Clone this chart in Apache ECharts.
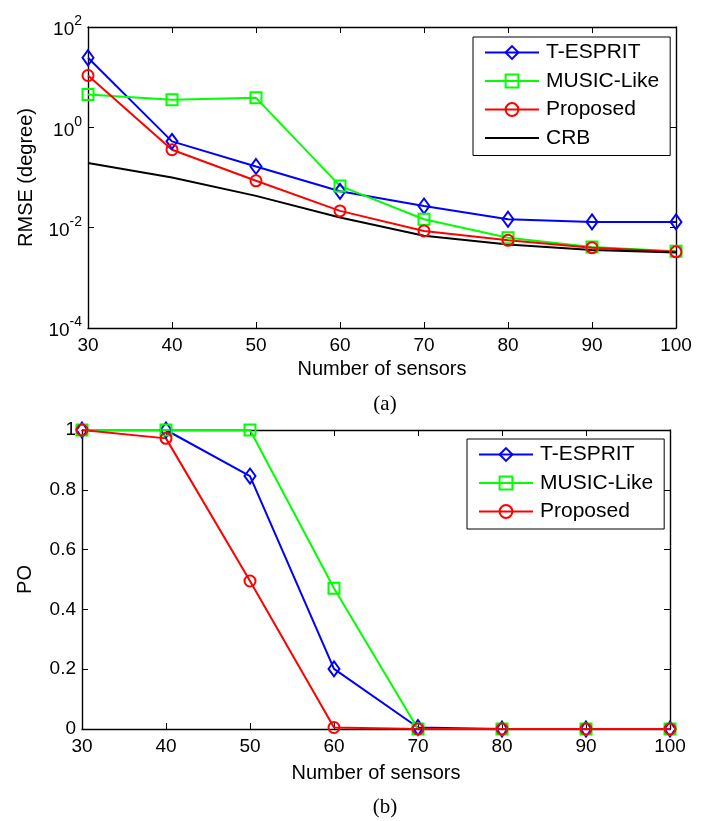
<!DOCTYPE html>
<html>
<head>
<meta charset="utf-8">
<script src="https://cdn.jsdelivr.net/npm/echarts@6/dist/echarts.min.js"></script>
<style>
  html, body { margin: 0; padding: 0; background: #fff; }
  #chart { width: 721px; height: 821px; }
</style>
</head>
<body>
<div id="chart"></div>
<script>
// ---- data ----
const sensors = [30, 40, 50, 60, 70, 80, 90, 100];
const xTicks = [30, 40, 50, 60, 70, 80, 90, 100];
const seriesNames = ['T-ESPRIT', 'MUSIC-Like', 'Proposed', 'CRB'];
const rmseTEsprit  = [24.4, 0.525, 0.166, 0.053, 0.027, 0.0147, 0.013, 0.013];
const rmseMusic    = [4.5, 3.53, 3.87, 0.068, 0.0147, 0.0063, 0.0041, 0.0034];
const rmseProposed = [10.8, 0.358, 0.086, 0.0216, 0.0086, 0.0056, 0.004, 0.0033];
const rmseCRB      = [0.194, 0.1, 0.043, 0.016, 0.0069, 0.0046, 0.0036, 0.0032];
const poTEsprit  = [1, 1, 0.846, 0.201, 0.005, 0, 0, 0];
const poMusic    = [1, 1, 1, 0.471, 0, 0, 0, 0];
const poProposed = [1, 0.972, 0.495, 0.005, 0, 0, 0, 0];
const rmseTicks = [1e-4, 1e-2, 1, 1e2];
const poTicks = [0, 0.2, 0.4, 0.6, 0.8, 1];

// ---- styling ----
const FONT = 'Liberation Sans';
const colors = { 'T-ESPRIT': '#0000ff', 'MUSIC-Like': '#00ff00', 'Proposed': '#ff0000', 'CRB': '#000000' };
const symbols = { 'T-ESPRIT': 'diamond', 'MUSIC-Like': 'rect', 'Proposed': 'circle', 'CRB': 'none' };
const symSizes = { 'T-ESPRIT': [11, 15], 'MUSIC-Like': 11, 'Proposed': 11, 'CRB': 0 };

function pairs(xs, ys) { return xs.map((x, i) => [x, ys[i]]); }

function mkSeries(name, ys, gi) {
  const c = colors[name];
  return {
    type: 'line', name: name, xAxisIndex: gi * 2, yAxisIndex: gi * 2,
    data: pairs(sensors, ys),
    symbol: symbols[name], symbolSize: symSizes[name],
    showSymbol: symbols[name] !== 'none',
    lineStyle: { color: c, width: 2 },
    itemStyle: { color: 'rgba(255,255,255,0)', borderColor: c, borderWidth: 2 },
    emphasis: { disabled: true },
    animation: false, z: 2
  };
}

const axisLine = { show: true, onZero: false, lineStyle: { color: '#000', width: 1.4 } };
const axisTick = { show: true, inside: true, length: 6, lineStyle: { color: '#000', width: 1 } };

function xAxes(gi, gap) {
  return [
    { type: 'value', gridIndex: gi, min: 30, max: 100, interval: 10, position: 'bottom',
      axisLine: axisLine, axisTick: axisTick, splitLine: { show: false },
      axisLabel: { fontFamily: FONT, fontSize: 19, color: '#000', margin: 8 },
      name: 'Number of sensors', nameLocation: 'middle', nameGap: gap,
      nameTextStyle: { fontFamily: FONT, fontSize: 20, color: '#000' } },
    { type: 'value', gridIndex: gi, min: 30, max: 100, interval: 10, position: 'top',
      axisLine: axisLine, axisTick: axisTick, splitLine: { show: false }, axisLabel: { show: false } }
  ];
}

const legendCommon = {
  orient: 'vertical', itemWidth: 54, itemHeight: 16, itemGap: 7.5,
  borderColor: '#000', borderWidth: 1, backgroundColor: '#fff', borderRadius: 0,
  textStyle: { fontFamily: FONT, fontSize: 21, color: '#000', padding: [0, 0, 0, 2] },
  selectedMode: false
};

const legendTop = seriesNames.map(n => n === 'CRB'
  ? { name: n, itemStyle: { color: 'rgba(0,0,0,0)', borderColor: 'rgba(0,0,0,0)', borderWidth: 0 } }
  : { name: n });

const option = {
  animation: false,
  backgroundColor: '#fff',
  title: [
    { text: '(a)', left: 380, top: 389, textAlign: 'center',
      textStyle: { fontFamily: 'Liberation Serif', fontSize: 21, fontWeight: 'normal', color: '#000' } },
    { text: '(b)', left: 380, top: 792, textAlign: 'center',
      textStyle: { fontFamily: 'Liberation Serif', fontSize: 21, fontWeight: 'normal', color: '#000' } }
  ],
  legend: [
    Object.assign({}, legendCommon, { data: legendTop, left: 473, top: 37, padding: [5, 11, 7, 11] }),
    Object.assign({}, legendCommon, { data: seriesNames.slice(0, 3), left: 467, top: 439, padding: [5, 11, 7, 11] })
  ],
  grid: [
    { left: 88, top: 27, width: 588, height: 301, containLabel: false },
    { left: 82, top: 430, width: 588, height: 299, containLabel: false }
  ],
  xAxis: xAxes(0, 31).concat(xAxes(1, 34)),
  yAxis: [
    { type: 'log', gridIndex: 0, logBase: 10, min: 1e-4, max: 1e2, interval: 2, position: 'left',
      axisLine: axisLine, axisTick: axisTick, splitLine: { show: false }, minorTick: { show: false },
      axisLabel: {
        margin: 6, color: '#000',
        formatter: function (v) {
          const e = Math.round(Math.log10(v));
          if (!rmseTicks.some(t => Math.abs(Math.log10(t) - e) < 1e-6)) return '';
          return '{b|10}{s|' + e + '}';
        },
        rich: {
          b: { fontFamily: FONT, fontSize: 19, color: '#000', verticalAlign: 'bottom' },
          s: { fontFamily: FONT, fontSize: 14, color: '#000', verticalAlign: 'top', padding: [0, 0, 11, 0] }
        }
      },
      name: 'RMSE (degree)', nameLocation: 'middle', nameGap: 52,
      nameTextStyle: { fontFamily: FONT, fontSize: 20, color: '#000' } },
    { type: 'log', gridIndex: 0, logBase: 10, min: 1e-4, max: 1e2, interval: 2, position: 'right',
      axisLine: axisLine, axisTick: axisTick, splitLine: { show: false }, axisLabel: { show: false } },
    { type: 'value', gridIndex: 1, min: 0, max: 1, interval: 0.2, position: 'left',
      axisLine: axisLine, axisTick: axisTick, splitLine: { show: false },
      axisLabel: { fontFamily: FONT, fontSize: 19, color: '#000', margin: 6 },
      name: 'PO', nameLocation: 'middle', nameGap: 47,
      nameTextStyle: { fontFamily: FONT, fontSize: 20, color: '#000' } },
    { type: 'value', gridIndex: 1, min: 0, max: 1, interval: 0.2, position: 'right',
      axisLine: axisLine, axisTick: axisTick, splitLine: { show: false }, axisLabel: { show: false } }
  ],
  series: [
    mkSeries('T-ESPRIT', rmseTEsprit, 0),
    mkSeries('MUSIC-Like', rmseMusic, 0),
    mkSeries('Proposed', rmseProposed, 0),
    mkSeries('CRB', rmseCRB, 0),
    mkSeries('T-ESPRIT', poTEsprit, 1),
    mkSeries('MUSIC-Like', poMusic, 1),
    mkSeries('Proposed', poProposed, 1)
  ]
};

const chart = echarts.init(document.getElementById('chart'), null, { renderer: 'canvas', width: 721, height: 821 });
chart.setOption(option);
</script>
</body>
</html>
